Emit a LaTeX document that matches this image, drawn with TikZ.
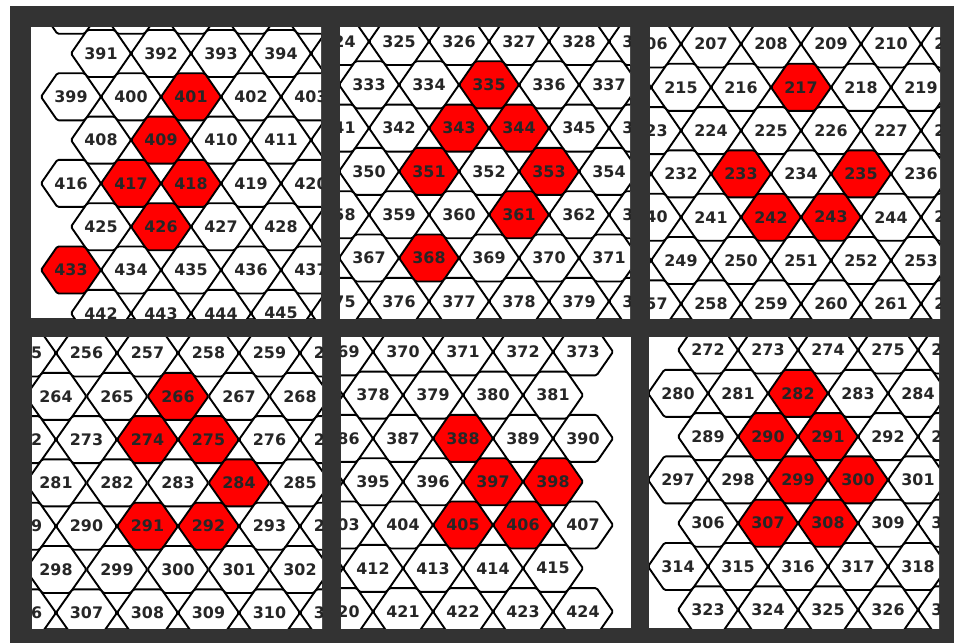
\documentclass[tikz,border=0pt]{standalone}
\usepackage{fontspec}
\newfontfamily\cellfont{DejaVu Sans}
\definecolor{framegray}{HTML}{333333}

\tikzset{
  cellline/.style={draw=black, line width=1.35pt, line join=round, rounded corners=1pt},
  num/.style={font={\cellfont\bfseries\fontsize{11.3}{12}\selectfont}, text=black!85, inner sep=0pt},
}

% lattice: rows of 8 and 9 cells, 17 numbers per pair of rows
\def\dy{43.3}
\def\hh{23.5}
\newcommand{\hexcell}[3]{%
  \edef\rowq{\the\numexpr(#2-8)/17\relax}%
  \edef\colk{\the\numexpr#2-17*\rowq\relax}%
  \ifnum\colk<8
    \pgfmathsetmacro{\cx}{\xl+\sx/2+\sx*\colk}
    \pgfmathsetmacro{\cy}{\yz+2*\dy*(\rowq-\qz)}
  \else
    \pgfmathsetmacro{\cx}{\xl+\sx*(\colk-8)}
    \pgfmathsetmacro{\cy}{\yz+2*\dy*(\rowq-\qz)+\dy}
  \fi
  \pgfmathsetmacro{\tw}{\sx/2*(1-\hh/\dy)}
  % only cells that reach into the panel, only texts that show
  \pgfmathtruncatemacro{\inpanel}{(\cx>\px-32)&&(\cx<\px+322)&&(\cy>\py-25)&&(\cy<\py+316)?1:0}
  \pgfmathtruncatemacro{\showtext}{(\cx>\px-22)&&(\cx<\px+312)&&(\cy>\py-4)&&(\cy<\py+295)?1:0}
  \ifnum\inpanel=1
    \filldraw[cellline, fill=#3] (\cx,\cy) +(-\sx/2,0) -- +(-\tw,-\hh) -- +(\tw,-\hh)
      -- +(\sx/2,0) -- +(\tw,\hh) -- +(-\tw,\hh) -- cycle;
  \fi
  \ifnum\showtext=1
    \node[num] (p#1c#2) at (\cx,\cy) {#2};
  \fi
}

\begin{document}
\begin{tikzpicture}[x=0.25mm, y=-0.25mm]
\useasboundingbox (0,0) rectangle (954,643);
\fill[white] (0,0) rectangle (954,643);
\fill[framegray] (10,6) rectangle (954,643);

% panel / left edge / spacing / first row / its y / red cells
\foreach \pn/\px/\py/\xl/\sx/\qz/\yz/\qa/\reds in {
  1/31/27/71/60/23/53.5/22/{401,409,417,418,426,433},
  2/340/27/249/60/19/41.5/18/{335,343,344,351,353,361,368},
  3/650/27/501/60/12/44/11/{217,233,235,242,243},
  4/32/337/-5/61/15/353/14/{266,274,275,284,291,292},
  5/341/337/103/60/21/308.5/20/{388,397,398,405,406},
  6/649/337/678/60/16/350/15/{282,290,291,299,300,307,308}}
{
  \begin{scope}
    \clip (\px,\py) rectangle ++(290,291);
    \fill[white] (\px,\py) rectangle ++(290,291);
    \pgfmathtruncatemacro{\qb}{\qa+4}
    \foreach \q in {\qa,...,\qb} {
      \foreach \k in {0,...,16} {
        \pgfmathtruncatemacro{\n}{17*\q+\k}
        \gdef\cellfill{white}
        \foreach \m in \reds {\ifnum\m=\n\relax\gdef\cellfill{red}\fi}
        \hexcell{\pn}{\n}{\cellfill}
      }
    }
  \end{scope}
}
\end{tikzpicture}
\end{document}
